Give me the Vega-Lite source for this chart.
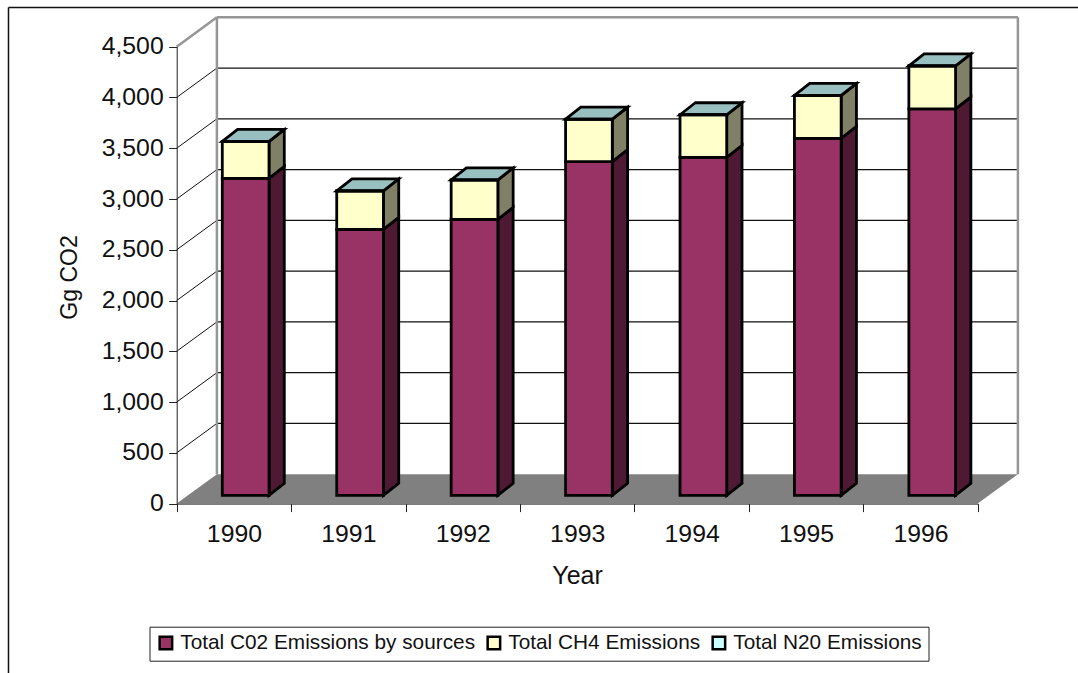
{
"$schema":"https://vega.github.io/schema/vega-lite/v6.json",
"width":1070,"height":666,"autosize":{"type":"none"},"padding":{"left":8,"top":7,"right":0,"bottom":0},
"background":"white","view":{"stroke":null},
"config":{"font":"Liberation Sans"},
"datasets":{
"emissions":[
{"year":1990,"series":"Total C02 Emissions by sources","value":3122},{"year":1990,"series":"Total CH4 Emissions","value":361},{"year":1990,"series":"Total N20 Emissions","value":2},
{"year":1991,"series":"Total C02 Emissions by sources","value":2620},{"year":1991,"series":"Total CH4 Emissions","value":377},{"year":1991,"series":"Total N20 Emissions","value":2},
{"year":1992,"series":"Total C02 Emissions by sources","value":2718},{"year":1992,"series":"Total CH4 Emissions","value":387},{"year":1992,"series":"Total N20 Emissions","value":2},
{"year":1993,"series":"Total C02 Emissions by sources","value":3286},{"year":1993,"series":"Total CH4 Emissions","value":417},{"year":1993,"series":"Total N20 Emissions","value":2},
{"year":1994,"series":"Total C02 Emissions by sources","value":3329},{"year":1994,"series":"Total CH4 Emissions","value":417},{"year":1994,"series":"Total N20 Emissions","value":2},
{"year":1995,"series":"Total C02 Emissions by sources","value":3516},{"year":1995,"series":"Total CH4 Emissions","value":420},{"year":1995,"series":"Total N20 Emissions","value":2},
{"year":1996,"series":"Total C02 Emissions by sources","value":3805},{"year":1996,"series":"Total CH4 Emissions","value":423},{"year":1996,"series":"Total N20 Emissions","value":2}
],
"gridlines":[{"tick":500},{"tick":1000},{"tick":1500},{"tick":2000},{"tick":2500},{"tick":3000},{"tick":3500},{"tick":4000}],
"depth":[{"t":0},{"t":1}],
"once":[{"t":1}]
},
"layer":[
{"data":{"name":"depth"},
 "transform":[{"calculate":"datum.t*0.3513","as":"xl"},{"calculate":"7+datum.t*0.3513","as":"xr"},{"calculate":"datum.t*289.6","as":"yv"}],
 "mark":{"type":"area","orient":"horizontal","fill":"#808080","stroke":null},
 "encoding":{
  "y":{"field":"yv","type":"quantitative","stack":null,"title":"Gg CO2",
    "scale":{"domain":[0,4500],"range":[496.6,39.7],"nice":false,"zero":false},
    "axis":{"values":[0,500,1000,1500,2000,2500,3000,3500,4000,4500],"format":",d","offset":-168.7,"grid":false,"zindex":1,
      "domainColor":"#222222","tickColor":"#222222","tickSize":8,"labelFontSize":24.8,"labelColor":"#111111","labelPadding":5.5,
      "titleFontSize":23,"titleFontWeight":"normal","titleColor":"#111111","titleX":-107,"titleY":270,"titleAngle":270,"titleBaseline":"middle","titleAlign":"center","labelOverlap":false}},
  "x":{"field":"xl","type":"quantitative","title":"Year",
    "scale":{"domain":[0,7],"range":[168.7,969.7],"nice":false,"zero":false},
    "axis":{"values":[0,0.5,1,1.5,2,2.5,3,3.5,4,4.5,5,5.5,6,6.5,7],"offset":-169.4,"grid":false,"zindex":1,
      "labelExpr":"datum.value % 1 ? '' + (1990 + datum.value - 0.5) : ''",
      "tickColor":{"expr":"datum.value % 1 ? 'transparent' : '#222222'"},"domainColor":"#222222","tickSize":8,"labelFontSize":24.8,"labelColor":"#111111","labelPadding":10,"labelOverlap":false,"labelFlush":false,
      "titleFontSize":25,"titleFontWeight":"normal","titleColor":"#111111","titleX":569,"titleY":72,"titleBaseline":"middle","titleAlign":"center"}},
  "x2":{"field":"xr"}
 }},
{"data":{"name":"gridlines"},
 "transform":[{"calculate":"datum.tick+289.6","as":"back"}],
 "mark":{"type":"rule","color":"#111111","strokeWidth":1.2},
 "encoding":{"x":{"datum":0.3513,"type":"quantitative"},"x2":{"datum":7.3513},"y":{"field":"back","type":"quantitative"}}},
{"data":{"name":"gridlines"},
 "transform":[{"calculate":"datum.tick+289.6","as":"back"}],
 "mark":{"type":"rule","color":"#111111","strokeWidth":1},
 "encoding":{"x":{"datum":0,"type":"quantitative"},"x2":{"datum":0.3513},"y":{"field":"tick","type":"quantitative"},"y2":{"field":"back"}}},
{"data":{"name":"once"},"mark":{"type":"rule","color":"#969696","strokeWidth":2.5},
 "encoding":{"x":{"datum":0,"type":"quantitative"},"x2":{"datum":0.3513},"y":{"datum":4500,"type":"quantitative"},"y2":{"datum":4789.6}}},
{"data":{"name":"once"},"mark":{"type":"rule","color":"#969696","strokeWidth":2.5},
 "encoding":{"x":{"datum":0.3513,"type":"quantitative"},"x2":{"datum":7.3513},"y":{"datum":4789.6,"type":"quantitative"}}},
{"data":{"name":"once"},"mark":{"type":"rule","color":"#969696","strokeWidth":2.5},
 "encoding":{"x":{"datum":0.3513,"type":"quantitative"},"y":{"datum":289.6,"type":"quantitative"},"y2":{"datum":4789.6}}},
{"data":{"name":"once"},"mark":{"type":"rule","color":"#969696","strokeWidth":2.5},
 "encoding":{"x":{"datum":7.3513,"type":"quantitative"},"y":{"datum":289.6,"type":"quantitative"},"y2":{"datum":4789.6}}},
{"data":{"name":"once"},"mark":{"type":"rule","color":"#111111","strokeWidth":1.5},
 "encoding":{"x":{"datum":-1.47,"type":"quantitative"},"y":{"datum":4886,"type":"quantitative"},"y2":{"datum":-1668}}},
{"data":{"name":"once"},"mark":{"type":"rule","color":"#111111","strokeWidth":1.5},
 "encoding":{"x":{"datum":-1.47,"type":"quantitative"},"x2":{"datum":7.88},"y":{"datum":4886,"type":"quantitative"}}},
{"data":{"name":"emissions"},
 "transform":[
  {"stack":"value","groupby":["year"],"as":["v0","v1"]},
  {"filter":"datum.series==='Total C02 Emissions by sources'"},
  {"calculate":"datum.year-1990+0.8066","as":"xa"},
  {"calculate":"datum.xa+0.1337","as":"xb"},
  {"fold":["xa","xb"],"as":["corner","xp"]},
  {"calculate":"datum.v0+81.7+(datum.corner==='xb'?118.2:0)","as":"low"},
  {"calculate":"datum.v1+81.7+(datum.corner==='xb'?118.2:0)","as":"high"}],
 "mark":{"type":"area","fill":"#4d1933","stroke":"black","strokeWidth":2.8,"strokeJoin":"miter"},
 "encoding":{
  "x":{"field":"xp","type":"quantitative"},
  "y":{"field":"low","type":"quantitative","stack":null},
  "y2":{"field":"high"},
  "detail":{"field":"year"}
 }},
{"data":{"name":"emissions"},
 "transform":[
  {"stack":"value","groupby":["year"],"as":["v0","v1"]},
  {"filter":"datum.series==='Total CH4 Emissions'"},
  {"calculate":"datum.year-1990+0.8066","as":"xa"},
  {"calculate":"datum.xa+0.1337","as":"xb"},
  {"fold":["xa","xb"],"as":["corner","xp"]},
  {"calculate":"datum.v0+81.7+(datum.corner==='xb'?118.2:0)","as":"low"},
  {"calculate":"datum.v1+81.7+(datum.corner==='xb'?118.2:0)","as":"high"}],
 "mark":{"type":"area","fill":"#808066","stroke":"black","strokeWidth":2.8,"strokeJoin":"miter"},
 "encoding":{
  "x":{"field":"xp","type":"quantitative"},
  "y":{"field":"low","type":"quantitative","stack":null},
  "y2":{"field":"high"},
  "detail":{"field":"year"}
 }},
{"data":{"name":"emissions"},
 "transform":[
  {"stack":"value","groupby":["year"],"as":["v0","v1"]},
  {"filter":"datum.series==='Total N20 Emissions'"},
  {"calculate":"datum.v1+81.7","as":"front"},
  {"calculate":"datum.v1+81.7+118.2","as":"rear"},
  {"fold":["front","rear"],"as":["edge","yp"]},
  {"calculate":"datum.year-1990+0.3985+(datum.edge==='rear'?0.1337:0)","as":"xl"},
  {"calculate":"datum.year-1990+0.8066+(datum.edge==='rear'?0.1337:0)","as":"xr"}],
 "mark":{"type":"area","orient":"horizontal","fill":"#99c0c0","stroke":"black","strokeWidth":2.8,"strokeJoin":"miter"},
 "encoding":{
  "y":{"field":"yp","type":"quantitative","stack":null},
  "x":{"field":"xl","type":"quantitative"},
  "x2":{"field":"xr"},
  "detail":{"field":"year"}
 }},
{"data":{"name":"emissions"},
 "transform":[
  {"stack":"value","groupby":["year"],"as":["v0","v1"]},
  {"calculate":"datum.year-1990+0.3985","as":"xl"},
  {"calculate":"datum.year-1990+0.8066","as":"xr"},
  {"calculate":"datum.v0+81.7","as":"low"},
  {"calculate":"datum.v1+81.7","as":"high"}],
 "mark":{"type":"rect","stroke":"black","strokeWidth":2.8,"strokeJoin":"miter"},
 "encoding":{
  "x":{"field":"xl","type":"quantitative"},
  "x2":{"field":"xr"},
  "y":{"field":"low","type":"quantitative"},
  "y2":{"field":"high"},
  "color":{"field":"series","type":"nominal",
    "scale":{"domain":["Total C02 Emissions by sources","Total CH4 Emissions","Total N20 Emissions"],"range":["#993366","#ffffcc","#ccffff"]},
    "legend":{"orient":"none","legendX":141.5,"legendY":619.7,"direction":"horizontal","columns":3,"title":null,"gridAlign":"none","columnPadding":7,
      "symbolType":"square","symbolSize":156,"symbolStrokeColor":"black","symbolStrokeWidth":2.5,
      "labelFontSize":20.8,"labelColor":"#111111","labelOffset":4,"labelLimit":500,"strokeColor":"#222222","fillColor":"white","padding":6}}
 }}
]
}
